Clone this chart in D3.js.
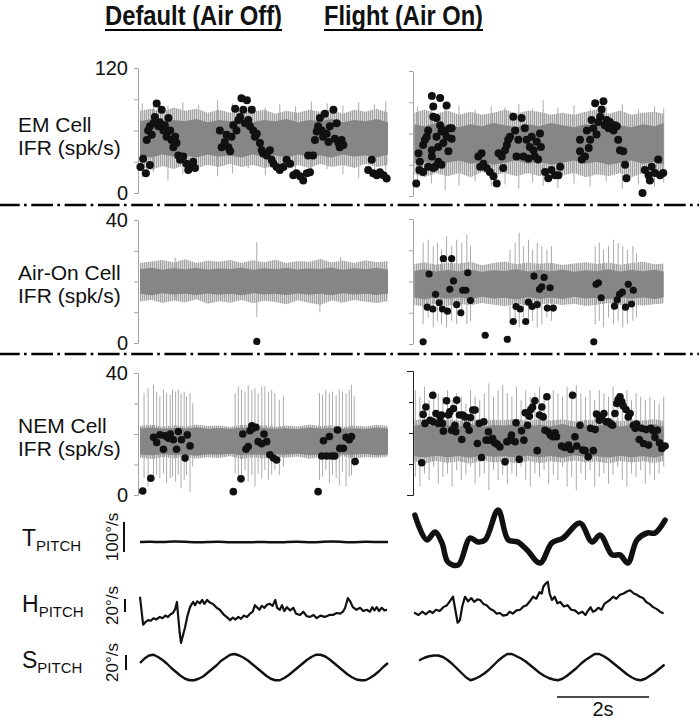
<!DOCTYPE html>
<html>
<head>
<meta charset="utf-8">
<script src="https://cdn.jsdelivr.net/npm/d3@7"></script>
<style>
  body { margin: 0; background: #fff; }
  text { font-family: Arial, 'Liberation Sans', sans-serif; fill: #111; }
</style>
</head>
<body>
<script>
// time axis in seconds, same for both columns
var tMax = 5.5
var emTicks = [0, 30, 60, 90, 120]
var ifrTicks = [0, 10, 20, 30, 40]
var titles = ['Default (Air Off)', 'Flight (Air On)']

// gray IFR traces: [t, outerLo, coreLo, coreHi, outerHi]
var emOffBand = [
  [0.00, 25, 36, 69, 79], [0.25, 22, 34, 71, 81], [0.50, 26, 37, 68, 78], [0.75, 23, 35, 70, 82],
  [1.00, 27, 36, 69, 79], [1.25, 24, 34, 71, 81], [1.50, 27, 37, 68, 77], [1.75, 25, 35, 70, 80],
  [2.00, 28, 36, 69, 77], [2.25, 25, 34, 71, 80], [2.50, 27, 37, 68, 78], [2.75, 24, 35, 70, 80],
  [3.00, 26, 36, 69, 76], [3.25, 23, 34, 71, 79], [3.50, 27, 37, 68, 77], [3.75, 24, 35, 70, 80],
  [4.00, 28, 36, 69, 78], [4.25, 25, 34, 71, 80], [4.50, 27, 37, 68, 76], [4.75, 24, 35, 70, 80],
  [5.00, 28, 36, 69, 78], [5.25, 25, 34, 71, 81], [5.50, 27, 37, 68, 77]
]
var emOnBand = [
  [0.03, 21, 31, 69, 80], [0.25, 18, 33, 67, 83], [0.50, 22, 30, 70, 79], [0.75, 19, 32, 68, 82],
  [1.00, 22, 34, 66, 78], [1.25, 18, 31, 69, 81], [1.50, 23, 33, 67, 78], [1.75, 20, 30, 70, 80],
  [2.00, 22, 32, 68, 83], [2.25, 19, 34, 66, 79], [2.50, 22, 31, 69, 82], [2.75, 19, 33, 67, 81],
  [3.00, 23, 30, 70, 78], [3.25, 20, 32, 68, 80], [3.50, 22, 34, 66, 78], [3.75, 18, 31, 69, 81],
  [4.00, 21, 33, 67, 83], [4.25, 19, 30, 70, 79], [4.50, 22, 32, 68, 82], [4.75, 18, 34, 66, 78],
  [5.00, 22, 31, 69, 80], [5.25, 20, 33, 67, 81], [5.45, 22, 30, 70, 79]
]
var airOffBand = [
  [0.00, 13.5, 16.0, 24.0, 26.0], [0.25, 14.0, 15.5, 24.5, 26.5], [0.50, 13.0, 16.2, 23.8, 27.0],
  [0.75, 13.8, 15.8, 24.3, 26.2], [1.00, 13.2, 16.0, 24.0, 27.2], [1.25, 14.2, 15.6, 24.4, 26.0],
  [1.50, 12.8, 16.1, 23.9, 26.8], [1.75, 13.6, 15.7, 24.2, 26.4], [2.00, 13.1, 16.0, 24.1, 27.0],
  [2.25, 14.0, 15.5, 24.5, 26.1], [2.50, 12.9, 16.2, 23.8, 26.9], [2.75, 13.7, 15.8, 24.3, 26.3],
  [3.00, 13.3, 16.0, 24.0, 27.1], [3.25, 12.6, 15.6, 24.4, 26.0], [3.50, 13.9, 16.1, 23.9, 26.7],
  [3.75, 13.0, 15.7, 24.2, 26.4], [4.00, 12.4, 16.0, 24.1, 27.3], [4.25, 13.8, 15.5, 24.5, 26.2],
  [4.50, 13.2, 16.2, 23.8, 26.8], [4.75, 14.0, 15.8, 24.3, 26.0], [5.00, 13.4, 16.0, 24.0, 26.9],
  [5.25, 13.0, 15.6, 24.4, 26.3], [5.50, 13.6, 16.1, 23.9, 26.6]
]
var airOnBand = [
  [0.03, 12.5, 14.8, 23.4, 25.6], [0.25, 12.0, 14.3, 23.9, 26.2], [0.50, 13.0, 15.0, 23.2, 25.4],
  [0.75, 12.2, 14.5, 23.7, 26.0], [1.00, 12.8, 14.9, 23.3, 25.8], [1.25, 12.4, 14.4, 23.8, 26.3],
  [1.50, 13.1, 15.1, 23.1, 25.2], [1.75, 12.6, 14.6, 23.6, 25.9], [2.00, 12.1, 14.8, 23.4, 26.4],
  [2.25, 12.9, 14.3, 23.9, 25.5], [2.50, 12.3, 15.0, 23.2, 26.1], [2.75, 12.7, 14.5, 23.7, 25.7],
  [3.00, 13.0, 14.9, 23.3, 26.0], [3.25, 12.5, 14.4, 23.8, 25.3], [3.50, 12.9, 15.1, 23.1, 25.8],
  [3.75, 12.2, 14.6, 23.6, 26.2], [4.00, 12.6, 14.8, 23.4, 25.6], [4.25, 13.1, 14.3, 23.9, 26.1],
  [4.50, 12.4, 15.0, 23.2, 25.4], [4.75, 12.8, 14.5, 23.7, 25.9], [5.00, 12.3, 14.9, 23.3, 26.3],
  [5.25, 12.7, 14.4, 23.8, 25.5], [5.45, 13.0, 15.0, 23.2, 25.8]
]
var nemOffBand = [
  [0.00, 12.3, 13.3, 21.8, 22.6], [0.25, 11.8, 13.0, 22.1, 23.0], [0.50, 12.5, 13.4, 21.7, 22.4],
  [0.75, 12.0, 13.1, 22.0, 22.9], [1.00, 12.6, 13.3, 21.8, 22.5], [1.25, 11.9, 12.9, 22.2, 23.1],
  [1.50, 12.4, 13.4, 21.7, 22.6], [1.75, 12.1, 13.2, 22.0, 22.8], [2.00, 12.7, 13.5, 21.6, 22.3],
  [2.25, 11.8, 13.0, 22.1, 23.0], [2.50, 12.3, 13.3, 21.8, 22.7], [2.75, 12.0, 13.1, 22.0, 22.9],
  [3.00, 12.5, 13.4, 21.7, 22.4], [3.25, 12.2, 13.2, 21.9, 22.8], [3.50, 12.6, 13.5, 21.6, 22.5],
  [3.75, 11.9, 13.0, 22.1, 23.1], [4.00, 12.4, 13.3, 21.8, 22.6], [4.25, 12.1, 13.1, 22.0, 22.9],
  [4.50, 12.7, 13.4, 21.7, 22.3], [4.75, 12.0, 13.2, 21.9, 22.8], [5.00, 12.5, 13.5, 21.6, 22.5],
  [5.25, 12.2, 13.0, 22.1, 23.0], [5.50, 12.6, 13.3, 21.8, 22.6]
]
var nemOnBand = [
  [0.03, 10.8, 12.5, 22.3, 24.1], [0.25, 10.2, 12.1, 22.8, 24.6], [0.50, 11.0, 12.7, 22.1, 23.8],
  [0.75, 10.4, 12.2, 22.6, 24.4], [1.00, 10.9, 12.6, 22.2, 24.0], [1.25, 10.1, 12.0, 22.9, 24.7],
  [1.50, 11.1, 12.8, 22.0, 23.7], [1.75, 10.5, 12.3, 22.5, 24.3], [2.00, 10.8, 12.5, 22.4, 24.2],
  [2.25, 10.2, 12.1, 22.8, 24.6], [2.50, 11.0, 12.7, 22.1, 23.9], [2.75, 10.3, 12.2, 22.7, 24.5],
  [3.00, 10.9, 12.6, 22.2, 24.0], [3.25, 10.4, 12.0, 22.9, 24.4], [3.50, 11.1, 12.8, 22.0, 23.8],
  [3.75, 10.6, 12.3, 22.5, 24.2], [4.00, 10.8, 12.5, 22.3, 24.1], [4.25, 10.2, 12.1, 22.8, 24.6],
  [4.50, 11.0, 12.7, 22.1, 23.8], [4.75, 10.5, 12.2, 22.6, 24.3], [5.00, 10.9, 12.6, 22.2, 24.0],
  [5.25, 10.3, 12.0, 22.9, 24.5], [5.45, 11.0, 12.8, 22.0, 23.9]
]

// tall single-interval spikes: [t, lo, hi]
var emOffSpikes = [
  [0.05, 15, 86], [0.30, 20, 88], [0.62, 12, 84], [0.95, 18, 87], [1.30, 22, 85], [1.72, 16, 89],
  [2.05, 19, 86], [2.40, 24, 84], [2.78, 17, 82], [3.10, 21, 85], [3.45, 15, 83], [3.80, 20, 88],
  [4.15, 23, 86], [4.50, 18, 84], [4.85, 14, 87], [5.20, 19, 85], [5.45, 22, 88]
]
var emOnSpikes = [
  [0.10, 8, 86], [0.40, 12, 88], [0.70, 6, 84], [1.00, 10, 87], [1.35, 14, 83], [1.70, 9, 86],
  [2.00, 11, 85], [2.30, 7, 88], [2.60, 13, 84], [2.83, 10, 92], [3.15, 8, 85], [3.50, 12, 87],
  [3.85, 9, 84], [4.20, 14, 86], [4.55, 7, 88], [4.90, 11, 83], [5.25, 9, 86], [5.45, 13, 84]
]
var airOffSpikes = [[0.78, 14, 27.8], [2.59, 8.5, 32.8], [3.99, 10, 24], [4.45, 13, 28]]
var airOnSpikes = [
  [0.22, 6.3, 32.4], [0.33, 8.5, 33.4], [0.44, 5.3, 31.3], [0.53, 7.4, 32.4], [0.62, 6.3, 30.2],
  [0.73, 5.3, 34.5], [0.84, 7.4, 31.3], [0.95, 6.3, 33.4], [1.06, 8.5, 32.4], [1.17, 6.3, 35.0],
  [1.25, 7.4, 31.3], [2.11, 6.3, 30.2], [2.22, 7.4, 32.4], [2.31, 5.3, 35.6], [2.40, 8.5, 31.3],
  [2.51, 6.3, 33.4], [2.60, 7.4, 30.2], [2.70, 5.3, 32.4], [2.80, 6.3, 31.3], [2.91, 8.5, 30.2],
  [3.01, 7.4, 31.3], [3.96, 6.3, 31.3], [4.05, 7.4, 32.4], [4.14, 5.3, 30.2], [4.25, 8.5, 31.3],
  [4.36, 6.3, 33.4], [4.46, 7.4, 32.4], [4.56, 5.3, 31.3], [4.66, 6.3, 30.2], [4.78, 7.4, 31.3],
  [4.86, 8.5, 29.0]
]
var nemOffSpikes = [
  [0.09, 5.5, 33.4], [0.18, 2.8, 35.0], [0.30, 5.0, 36.1], [0.37, 6.6, 33.9], [0.44, 5.5, 32.3],
  [0.52, 7.1, 34.5], [0.59, 3.9, 33.4], [0.67, 5.5, 32.8], [0.72, 6.0, 34.5], [0.79, 4.4, 33.9],
  [0.85, 6.6, 34.5], [0.91, 2.2, 33.4], [0.98, 5.0, 33.9], [1.03, 6.6, 32.3], [1.11, 1.1, 33.4],
  [1.17, 9.3, 30.1],
  [2.11, 7.1, 33.4], [2.18, 5.0, 35.6], [2.25, 6.6, 34.5], [2.33, 8.2, 33.9], [2.40, 4.4, 36.1],
  [2.48, 6.6, 34.5], [2.55, 2.8, 35.0], [2.62, 7.1, 33.4], [2.70, 5.5, 35.6], [2.77, 8.2, 35.6],
  [2.85, 5.0, 33.9], [2.92, 6.6, 34.5], [2.99, 8.2, 33.4], [3.09, 6.6, 31.2], [3.18, 9.3, 32.3],
  [3.98, 5.0, 33.4], [4.05, 6.0, 32.8], [4.12, 8.2, 34.5], [4.20, 3.9, 33.4], [4.27, 6.6, 33.9],
  [4.35, 5.5, 32.8], [4.42, 3.3, 34.5], [4.49, 7.7, 33.9], [4.57, 2.8, 33.4], [4.64, 6.0, 34.5],
  [4.69, 6.6, 36.1], [4.75, 9.3, 32.3]
]
var nemOnSpikes = [
  [0.05, 5.9, 33.8], [0.15, 2.7, 31.7], [0.25, 7.0, 34.9], [0.35, 4.8, 30.6], [0.45, 9.1, 33.8],
  [0.55, 3.7, 32.8], [0.65, 5.9, 31.7], [0.75, 7.0, 33.8], [0.85, 2.7, 30.6], [0.95, 8.0, 32.8],
  [1.05, 4.8, 31.7], [1.15, 6.5, 29.5], [1.25, 9.1, 33.8], [1.35, 3.7, 31.7], [1.45, 5.9, 30.6],
  [1.55, 7.0, 32.8], [1.65, 1.6, 36.0], [1.75, 8.0, 31.7], [1.85, 4.8, 33.8], [1.95, 6.5, 35.5],
  [2.05, 3.7, 32.8], [2.15, 7.0, 31.7], [2.25, 5.9, 34.9], [2.35, 9.1, 30.6], [2.45, 4.8, 33.8],
  [2.55, 2.7, 31.7], [2.65, 7.0, 32.8], [2.75, 5.9, 34.9], [2.85, 8.0, 31.7], [2.95, 3.7, 30.6],
  [3.05, 6.5, 33.8], [3.15, 4.8, 32.8], [3.25, 9.1, 31.7], [3.35, 2.7, 34.9], [3.45, 5.9, 33.8],
  [3.55, 1.6, 35.5], [3.65, 7.0, 32.8], [3.75, 4.8, 31.7], [3.85, 8.0, 33.8], [3.95, 2.7, 30.6],
  [4.05, 5.9, 33.8], [4.15, 7.0, 32.8], [4.25, 3.7, 31.7], [4.35, 6.5, 34.9], [4.45, 9.1, 32.8],
  [4.55, 4.8, 31.7], [4.65, 2.7, 33.8], [4.75, 7.0, 30.6], [4.85, 5.9, 32.8], [4.95, 8.0, 31.7],
  [5.05, 3.7, 30.6], [5.15, 6.5, 31.7], [5.25, 4.8, 30.6], [5.35, 7.0, 29.5], [5.45, 9.1, 31.7]
]

// black dots: [t, spk/s]
var emOffDots = [
  [0.01, 25], [0.07, 33], [0.13, 19], [0.22, 27], [0.15, 51], [0.18, 60], [0.22, 64], [0.26, 56],
  [0.30, 67], [0.33, 73], [0.37, 86], [0.41, 64], [0.44, 68], [0.48, 80], [0.52, 60], [0.55, 65],
  [0.59, 54], [0.63, 72], [0.67, 60], [0.70, 51], [0.74, 44], [0.78, 54], [0.81, 48], [0.85, 36],
  [0.89, 32], [0.96, 35], [1.03, 28], [1.07, 22], [1.15, 25], [1.18, 30], [1.22, 24],
  [1.77, 60], [1.81, 44], [1.88, 49], [1.92, 56], [1.96, 44], [2.00, 40], [2.03, 54], [2.07, 65],
  [2.11, 81], [2.14, 60], [2.18, 70], [2.22, 73], [2.25, 91], [2.29, 80], [2.33, 67], [2.37, 89],
  [2.40, 70], [2.44, 64], [2.48, 80], [2.51, 60], [2.55, 54], [2.59, 57], [2.66, 48], [2.70, 41],
  [2.73, 38], [2.81, 36], [2.88, 41], [2.92, 32], [2.96, 28], [3.03, 25], [3.10, 22], [3.18, 25],
  [3.25, 32], [3.33, 28], [3.40, 17], [3.47, 19], [3.55, 16], [3.62, 12], [3.70, 19], [3.77, 20],
  [3.73, 36], [3.84, 36], [3.88, 51], [3.92, 59], [3.95, 64], [3.99, 72], [4.03, 60], [4.06, 54],
  [4.10, 76], [4.14, 57], [4.18, 49], [4.21, 64], [4.29, 80], [4.32, 52], [4.36, 67], [4.40, 48],
  [4.43, 44], [4.47, 51], [4.51, 46],
  [5.06, 22], [5.14, 32], [5.17, 19], [5.25, 17], [5.32, 20], [5.40, 17], [5.47, 14]
]
var emOnDots = [
  [0.07, 12], [0.12, 41], [0.15, 33], [0.14, 25], [0.22, 23], [0.22, 49], [0.26, 54], [0.30, 57],
  [0.33, 63], [0.33, 28], [0.41, 38], [0.41, 44], [0.44, 27], [0.44, 76], [0.44, 86], [0.41, 96],
  [0.51, 57], [0.51, 75], [0.48, 28], [0.55, 47], [0.55, 33], [0.59, 94], [0.59, 68], [0.62, 30],
  [0.62, 62], [0.66, 51], [0.70, 63], [0.73, 87], [0.73, 57], [0.77, 43], [0.80, 65], [0.84, 55],
  [0.84, 65],
  [1.42, 38], [1.49, 41], [1.46, 28], [1.53, 31], [1.60, 27], [1.67, 23], [1.75, 19], [1.82, 12],
  [1.86, 41], [1.93, 38], [1.96, 27], [2.00, 44], [2.04, 49], [2.07, 54], [2.11, 57], [2.18, 76],
  [2.22, 63], [2.25, 38], [2.29, 54], [2.36, 75], [2.40, 38], [2.43, 65], [2.47, 54], [2.51, 36],
  [2.54, 47], [2.58, 57], [2.62, 44], [2.65, 38], [2.69, 52], [2.72, 35], [2.76, 60], [2.78, 47],
  [2.87, 23], [2.94, 17], [3.01, 25], [3.09, 20], [3.16, 20], [3.20, 28],
  [3.63, 54], [3.63, 43], [3.67, 35], [3.74, 38], [3.78, 63], [3.82, 46], [3.85, 54], [3.88, 73],
  [3.92, 65], [3.96, 89], [3.99, 59], [4.03, 71], [4.07, 76], [4.10, 83], [4.14, 91], [4.17, 68],
  [4.21, 73], [4.25, 65], [4.28, 71], [4.36, 63], [4.39, 68], [4.43, 67], [4.46, 54], [4.50, 44],
  [4.57, 43], [4.61, 30], [4.64, 17],
  [4.99, 3], [5.04, 25], [5.12, 20], [5.15, 15], [5.19, 28], [5.26, 22], [5.33, 35], [5.37, 20],
  [5.44, 22]
]
var airOffDots = [[2.59, 0.5]]
var airOnDots = [
  [0.22, 0.7], [0.35, 22.4], [0.31, 11.8], [0.43, 11.2], [0.49, 15.9], [0.57, 13.2], [0.64, 11.2],
  [0.66, 27.3], [0.75, 10.5], [0.80, 17.5], [0.84, 27.3], [0.88, 20.2], [0.95, 12.6], [1.04, 10.0],
  [1.08, 17.2], [1.15, 17.2], [1.19, 22.8], [1.25, 13.9], [1.57, 2.8], [2.05, 1.5], [2.18, 7.2],
  [2.24, 12.0], [2.33, 11.2], [2.45, 7.2], [2.51, 13.4], [2.59, 12.0], [2.63, 21.7], [2.70, 12.6],
  [2.75, 17.5], [2.80, 18.3], [2.85, 21.3], [2.92, 11.5], [2.98, 18.0], [3.05, 11.5], [3.93, 0.7],
  [3.98, 19.1], [4.03, 19.6], [4.09, 14.8], [4.38, 12.1], [4.44, 14.1], [4.49, 15.9], [4.55, 16.6],
  [4.62, 11.8], [4.68, 19.1], [4.75, 12.8], [4.79, 17.2]
]
var nemOffDots = [
  [0.06, 1.3], [0.24, 5.5], [0.30, 18.9], [0.37, 17.2], [0.44, 19.7], [0.52, 15.0], [0.55, 19.4],
  [0.63, 18.6], [0.67, 20.0], [0.74, 18.1], [0.81, 15.0], [0.85, 20.8], [0.92, 18.1], [1.00, 12.1],
  [1.05, 19.7], [1.11, 16.1],
  [2.07, 1.1], [2.24, 5.3], [2.28, 20.0], [2.35, 15.0], [2.40, 15.9], [2.44, 21.1], [2.48, 22.7],
  [2.51, 21.9], [2.57, 22.2], [2.62, 17.5], [2.70, 16.8], [2.75, 20.0], [2.81, 17.5], [2.88, 13.2],
  [2.96, 12.1], [3.03, 11.5],
  [3.95, 1.1], [4.03, 12.8], [4.07, 17.8], [4.14, 12.8], [4.20, 19.2], [4.25, 12.8], [4.32, 12.8],
  [4.38, 21.3], [4.43, 15.3], [4.51, 15.3], [4.57, 18.9], [4.64, 18.1], [4.69, 19.2], [4.77, 11.0]
]
var nemOnDots = [
  [0.19, 10.4], [0.22, 26.0], [0.28, 28.4], [0.26, 23.1], [0.37, 24.1], [0.43, 32.2], [0.44, 23.6],
  [0.50, 26.3], [0.55, 23.1], [0.59, 25.2], [0.62, 25.8], [0.64, 23.1], [0.66, 20.6], [0.73, 30.4],
  [0.77, 25.8], [0.80, 26.8], [0.84, 20.9], [0.88, 27.9], [0.91, 22.5], [0.93, 20.4], [0.95, 30.6],
  [1.01, 25.8], [1.06, 17.9], [1.08, 25.8], [1.13, 25.2], [1.17, 22.5], [1.22, 20.9], [1.25, 25.0],
  [1.30, 27.4], [1.35, 27.4], [1.40, 16.6], [1.44, 23.1], [1.49, 12.1], [1.54, 23.6], [1.59, 17.7],
  [1.64, 20.4], [1.67, 17.7], [1.73, 18.2], [1.78, 16.8], [1.83, 16.4], [1.89, 15.5], [2.00, 10.7],
  [2.04, 17.2], [2.11, 17.7], [2.14, 19.3], [2.22, 17.2], [2.24, 23.3], [2.31, 11.5], [2.36, 20.7],
  [2.41, 17.7], [2.44, 26.5], [2.49, 22.5], [2.53, 25.4], [2.56, 27.6], [2.60, 28.4], [2.65, 30.4],
  [2.70, 14.3], [2.75, 25.8], [2.80, 28.4], [2.83, 25.2], [2.87, 20.9], [2.91, 31.7], [2.94, 20.4],
  [2.99, 19.3], [3.04, 18.8], [3.09, 20.1], [3.12, 18.8], [3.23, 15.8], [3.30, 15.3], [3.38, 16.1],
  [3.43, 14.7], [3.47, 32.2], [3.52, 18.8], [3.56, 15.8], [3.63, 22.5], [3.69, 14.5], [3.74, 14.3],
  [3.81, 12.3], [3.86, 21.5], [3.92, 14.3], [3.96, 21.1], [3.99, 26.1], [4.05, 24.1], [4.10, 25.2],
  [4.15, 26.3], [4.20, 23.6], [4.25, 23.6], [4.30, 22.9], [4.34, 22.5], [4.39, 26.3], [4.43, 29.5],
  [4.46, 30.8], [4.50, 31.7], [4.54, 30.1], [4.57, 28.7], [4.63, 27.6], [4.68, 25.2], [4.72, 26.3],
  [4.79, 22.5], [4.83, 21.5], [4.86, 22.9], [4.92, 17.9], [4.97, 21.5], [5.01, 16.6], [5.07, 21.1],
  [5.12, 16.1], [5.17, 21.5], [5.22, 20.7], [5.26, 18.6], [5.31, 20.9], [5.36, 16.8], [5.41, 15.0],
  [5.48, 15.8]
]

// pitch velocity traces, deg/s: [t, value]
var tPitchOff = [
  [0, 0], [0.25, 1], [0.5, -1], [0.75, 3], [1.0, 1], [1.25, -1], [1.5, 0], [1.75, 2], [2.0, -2],
  [2.25, 0], [2.5, -1], [2.75, 1], [3.0, -2], [3.25, 0], [3.5, 1], [3.75, -1], [4.0, 0], [4.25, 2],
  [4.5, 0], [4.75, -1], [5.0, 1], [5.25, 0], [5.5, 0]
]
var tPitchOn = [
  [0.04, 90], [0.30, 7], [0.48, 33], [0.63, -3], [0.76, -67], [0.98, -77], [1.24, 13], [1.41, 0],
  [1.57, 7], [1.85, 107], [2.07, 7], [2.28, 0], [2.48, -27], [2.76, -70], [3.02, -3], [3.26, 13],
  [3.63, 63], [3.89, 0], [4.07, 23], [4.33, -43], [4.50, -43], [4.67, -70], [4.87, 7], [5.09, 30],
  [5.26, 30], [5.48, 73]
]
var hPitchOff = [
  [0, 25], [0.04, 0], [0.07, -18], [0.12, -14], [0.18, -11], [0.24, -12], [0.3, -8], [0.36, -10],
  [0.44, -6], [0.5, -8], [0.56, -4], [0.62, -6], [0.68, -2], [0.73, 0], [0.78, 6], [0.82, 17],
  [0.84, 0], [0.88, -30], [0.91, -46], [0.95, -35], [1.0, -22], [1.05, -5], [1.11, 9], [1.15, 14],
  [1.18, 17], [1.22, 12], [1.27, 18], [1.33, 15], [1.38, 20], [1.43, 14], [1.49, 20], [1.55, 16],
  [1.62, 14], [1.7, 8], [1.77, 5], [1.85, -2], [1.92, -6], [2.0, -11], [2.06, -7], [2.12, -10],
  [2.18, -6], [2.24, -9], [2.3, -4], [2.37, -6], [2.44, -1], [2.5, 2], [2.55, 12], [2.59, 9],
  [2.65, 5], [2.7, 11], [2.76, 8], [2.82, 13], [2.88, 14], [2.94, 11], [3.0, 20], [3.04, 8],
  [3.1, 5], [3.15, 12], [3.2, 3], [3.26, 9], [3.33, 4], [3.4, 8], [3.46, -1], [3.55, -3],
  [3.62, 2], [3.7, -5], [3.77, -6], [3.85, -3], [3.92, -8], [4.0, -4], [4.1, -6], [4.2, -3],
  [4.28, -3], [4.36, 0], [4.44, -1], [4.5, 2], [4.55, 8], [4.61, 23], [4.66, 18], [4.72, 9],
  [4.8, 5], [4.88, 8], [4.95, 3], [5.03, 5], [5.1, 2], [5.15, 9], [5.2, 4], [5.25, 9], [5.3, 3],
  [5.36, 8], [5.42, 4], [5.48, 5]
]
var hPitchOn = [
  [0.04, 0], [0.12, -3], [0.2, 2], [0.28, -2], [0.36, 3], [0.43, 0], [0.5, 5], [0.58, 3],
  [0.66, 9], [0.74, 12], [0.8, 18], [0.87, 25], [0.92, 5], [0.97, -15], [1.02, -11], [1.07, 10],
  [1.13, 25], [1.2, 18], [1.27, 23], [1.33, 17], [1.4, 21], [1.46, 20], [1.53, 14], [1.6, 12],
  [1.68, 6], [1.75, 4], [1.82, -1], [1.89, 0], [1.96, -4], [2.04, -3], [2.1, 2], [2.17, -1],
  [2.25, 4], [2.33, 5], [2.4, 10], [2.47, 12], [2.54, 18], [2.61, 25], [2.68, 22], [2.75, 32],
  [2.8, 30], [2.83, 40], [2.88, 45], [2.93, 48], [2.97, 30], [3.02, 20], [3.08, 25], [3.14, 15],
  [3.2, 17], [3.28, 10], [3.36, 12], [3.44, 5], [3.52, 4], [3.6, -1], [3.68, 2], [3.75, -3],
  [3.8, 3], [3.86, 9], [3.91, 2], [3.97, 4], [4.03, 8], [4.1, 5], [4.16, 14], [4.22, 17],
  [4.28, 20], [4.35, 25], [4.42, 22], [4.5, 28], [4.58, 30], [4.65, 33], [4.72, 35], [4.8, 30],
  [4.87, 28], [4.93, 25], [5.0, 23], [5.07, 17], [5.14, 14], [5.22, 9], [5.3, 6], [5.37, 2],
  [5.43, 0]
]
var sPitchOff = [
  [0, 6], [0.1, 12], [0.2, 16], [0.3, 17], [0.4, 14], [0.5, 10], [0.6, 5], [0.7, -1], [0.8, -6],
  [0.9, -11], [1.0, -15], [1.1, -17], [1.2, -17], [1.3, -15], [1.4, -12], [1.5, -7], [1.6, -2],
  [1.7, 3], [1.8, 9], [1.9, 13], [2.0, 17], [2.1, 18], [2.2, 16], [2.3, 13], [2.4, 9], [2.5, 4],
  [2.6, -1], [2.7, -6], [2.8, -11], [2.9, -15], [3.0, -17], [3.1, -17], [3.2, -14], [3.3, -10],
  [3.4, -5], [3.5, 0], [3.6, 5], [3.7, 10], [3.8, 14], [3.9, 17], [4.0, 17], [4.1, 15], [4.2, 11],
  [4.3, 6], [4.4, 1], [4.5, -4], [4.6, -9], [4.7, -13], [4.8, -16], [4.9, -17], [5.0, -17],
  [5.1, -14], [5.2, -10], [5.3, -5], [5.4, 1], [5.5, 6]
]
var sPitchOn = [
  [0.15, 10], [0.25, 13], [0.35, 15], [0.45, 16], [0.55, 16], [0.65, 14], [0.75, 10], [0.85, 5],
  [0.95, -1], [1.05, -7], [1.15, -13], [1.25, -17], [1.35, -15], [1.45, -12], [1.55, -8],
  [1.65, -3], [1.75, 3], [1.85, 9], [1.95, 14], [2.05, 18], [2.15, 18], [2.25, 15], [2.35, 12],
  [2.45, 8], [2.55, 3], [2.65, -2], [2.75, -7], [2.85, -11], [2.95, -14], [3.05, -16], [3.15, -17],
  [3.25, -15], [3.35, -11], [3.45, -6], [3.55, -1], [3.65, 5], [3.75, 10], [3.85, 14], [3.95, 18],
  [4.05, 18], [4.15, 15], [4.25, 11], [4.35, 6], [4.45, 1], [4.55, -4], [4.65, -9], [4.75, -13],
  [4.85, -16], [4.95, -17], [5.05, -15], [5.15, -11], [5.25, -7], [5.35, -2], [5.45, 3]
]

var svg = d3.select('body').append('svg').attr('width', 699).attr('height', 719)

var pat = svg.append('defs').append('pattern')
  .attr('id', 'fringe').attr('width', 2).attr('height', 6).attr('patternUnits', 'userSpaceOnUse')
pat.append('rect').attr('width', 2).attr('height', 6).attr('fill', '#dadada')
pat.append('rect').attr('width', 1).attr('height', 6).attr('fill', '#a2a2a2')

var xOff = d3.scaleLinear().domain([0, tMax]).range([140, 388])
var xOn = d3.scaleLinear().domain([0, tMax]).range([413, 666])

// titles
var titleBox = [{ x: 105, w: 177 }, { x: 324, w: 159 }]
titles.forEach(function (t, i) {
  svg.append('text')
    .attr('x', titleBox[i].x).attr('y', 25)
    .attr('textLength', titleBox[i].w).attr('lengthAdjust', 'spacingAndGlyphs')
    .style('font-family', "'Liberation Sans Narrow', 'Arial Narrow', Arial, 'Liberation Sans', sans-serif")
    .style('font-size', '28px').style('font-weight', 'bold')
    .text(t)
  svg.append('line')
    .attr('x1', titleBox[i].x).attr('x2', titleBox[i].x + titleBox[i].w)
    .attr('y1', 30).attr('y2', 30)
    .attr('stroke', '#000').attr('stroke-width', 2.2)
})

var panels = [
  { label: ['EM Cell', 'IFR (spk/s)'], labelY: 132, ticks: emTicks, r: 4,
    off: { band: emOffBand, spikes: emOffSpikes, dots: emOffDots, y: [193, 68] },
    on: { band: emOnBand, spikes: emOnSpikes, dots: emOnDots, y: [196, 71] } },
  { label: ['Air-On Cell', 'IFR (spk/s)'], labelY: 280, ticks: ifrTicks, r: 3.6,
    off: { band: airOffBand, spikes: airOffSpikes, dots: airOffDots, y: [343, 220] },
    on: { band: airOnBand, spikes: airOnSpikes, dots: airOnDots, y: [344, 219] } },
  { label: ['NEM Cell', 'IFR (spk/s)'], labelY: 433, ticks: ifrTicks, r: 3.8, bracket: true,
    off: { band: nemOffBand, spikes: nemOffSpikes, dots: nemOffDots, y: [495, 373] },
    on: { band: nemOnBand, spikes: nemOnSpikes, dots: nemOnDots, y: [495, 371] } }
]

panels.forEach(function (p) {
  var lab = svg.append('text').attr('x', 18).attr('y', p.labelY).style('font-size', '21px')
  lab.append('tspan').attr('x', 18).text(p.label[0])
  lab.append('tspan').attr('x', 18).attr('dy', 23).text(p.label[1])
  drawRaster(p.off, xOff, p.ticks, 138, true, false, p.r)
  drawRaster(p.on, xOn, p.ticks, 413, false, p.bracket, p.r)
})

function drawRaster(d, x, ticks, axisX, labelled, bracket, r) {
  var top = ticks[ticks.length - 1]
  var y = d3.scaleLinear().domain([0, top]).range(d.y)
  var g = svg.append('g')

  g.append('path').datum(d.band)
    .attr('fill', 'url(#fringe)')
    .attr('d', d3.area().x(function (b) { return x(b[0]) }).y0(function (b) { return y(b[1]) }).y1(function (b) { return y(b[4]) }))

  g.selectAll('line.spike').data(d.spikes).join('line')
    .attr('class', 'spike')
    .attr('x1', function (s) { return x(s[0]) }).attr('x2', function (s) { return x(s[0]) })
    .attr('y1', function (s) { return y(s[1]) }).attr('y2', function (s) { return y(s[2]) })
    .attr('stroke', '#ababab').attr('stroke-width', 1)

  g.append('path').datum(d.band)
    .attr('fill', '#868686')
    .attr('d', d3.area().x(function (b) { return x(b[0]) }).y0(function (b) { return y(b[2]) }).y1(function (b) { return y(b[3]) }))

  var axis = d3.axisLeft(y)
    .tickValues(ticks)
    .tickSize(4)
    .tickSizeOuter(bracket ? 6 : 0)
    .tickPadding(6)
    .tickFormat(function (v) { return labelled && (v === 0 || v === top) ? v : '' })
  var ag = svg.append('g')
    .attr('transform', 'translate(' + axisX + ',0)')
    .call(axis)
    .attr('font-size', 20)
    .attr('font-family', "Arial, 'Liberation Sans', sans-serif")
  var axisColor = bracket ? '#222' : '#a3a3a3'
  ag.select('.domain').attr('stroke', axisColor)
  ag.selectAll('.tick line').attr('stroke', axisColor)
  ag.selectAll('.tick text').attr('fill', '#111')

  g.raise()
  svg.append('g').selectAll('circle').data(d.dots).join('circle')
    .attr('cx', function (c) { return x(c[0]) })
    .attr('cy', function (c) { return y(c[1]) })
    .attr('r', r)
    .attr('fill', '#111')
}

// dash-dot separators
;[205, 354].forEach(function (yy) {
  svg.append('line')
    .attr('x1', -2).attr('x2', 699).attr('y1', yy).attr('y2', yy)
    .attr('stroke', '#000').attr('stroke-width', 2.5)
    .attr('stroke-dasharray', '21.7,4.3,2.7,4.6')
})

// pitch traces
var pitchRows = [
  { name: 'T', y0: 542, pxPerUnit: 0.3, bar: 100, barBottom: 552, barX: 124, labelY: 546,
    off: tPitchOff, on: tPitchOn, wOff: 2.5, wOn: 5.5, smooth: true },
  { name: 'H', y0: 613, pxPerUnit: 0.65, bar: 20, barBottom: 612, barX: 125, labelY: 612,
    off: hPitchOff, on: hPitchOn, wOff: 2.2, wOn: 2.2 },
  { name: 'S', y0: 667.5, pxPerUnit: 0.75, bar: 20, barBottom: 670, barX: 126, labelY: 668,
    off: sPitchOff, on: sPitchOn, wOff: 2.4, wOn: 2.4 }
]

pitchRows.forEach(function (row) {
  var y = d3.scaleLinear().domain([0, 1]).range([row.y0, row.y0 - row.pxPerUnit])
  var barLen = y(0) - y(row.bar)

  var lab = svg.append('text').attr('x', 22).attr('y', row.labelY).style('font-size', '23px')
  lab.append('tspan').text(row.name)
  lab.append('tspan').attr('dy', 5).style('font-size', '15px').text('PITCH')

  svg.append('line')
    .attr('x1', row.barX).attr('x2', row.barX)
    .attr('y1', row.barBottom).attr('y2', row.barBottom - barLen)
    .attr('stroke', '#111').attr('stroke-width', 2)
  svg.append('text')
    .attr('transform', 'translate(118,' + (row.barBottom - barLen / 2) + ') rotate(-90)')
    .attr('text-anchor', 'middle')
    .style('font-size', '17px')
    .text(row.bar + '°/s')

  var lineOff = d3.line().x(function (p) { return xOff(p[0]) }).y(function (p) { return y(p[1]) })
  var lineOn = d3.line().x(function (p) { return xOn(p[0]) }).y(function (p) { return y(p[1]) })
  if (row.smooth) {
    lineOff.curve(d3.curveBasis)
    lineOn.curve(d3.curveCatmullRom.alpha(0.5))
  }
  svg.append('path').datum(row.off).attr('d', lineOff)
    .attr('fill', 'none').attr('stroke', '#111').attr('stroke-width', row.wOff)
    .attr('stroke-linejoin', 'round')
  svg.append('path').datum(row.on).attr('d', lineOn)
    .attr('fill', 'none').attr('stroke', '#111').attr('stroke-width', row.wOn)
    .attr('stroke-linejoin', 'round').attr('stroke-linecap', 'round')
})

// time scale bar
var barStart = 3.13
var barSeconds = 2
svg.append('line')
  .attr('x1', xOn(barStart)).attr('x2', xOn(barStart + barSeconds))
  .attr('y1', 697).attr('y2', 697)
  .attr('stroke', '#111').attr('stroke-width', 1.5)
svg.append('text')
  .attr('x', xOn(barStart + barSeconds / 2)).attr('y', 716)
  .attr('text-anchor', 'middle')
  .style('font-size', '20px')
  .text(barSeconds + 's')
</script>
</body>
</html>
